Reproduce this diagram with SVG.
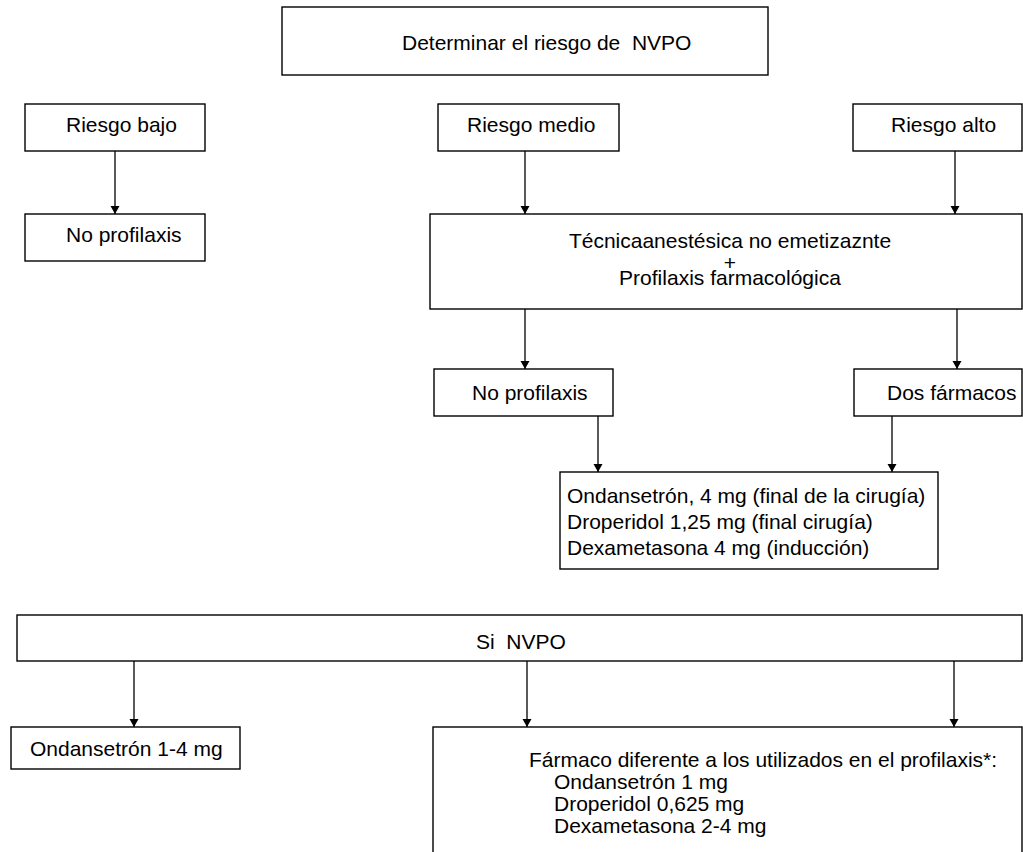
<svg xmlns="http://www.w3.org/2000/svg" width="1023" height="852" viewBox="0 0 1023 852">
<style>
.box{fill:#fff;stroke:#000;stroke-width:1.4}
.t{font-family:"Liberation Sans",Arial,sans-serif;font-size:21px;fill:#000}
.c{text-anchor:middle}
.con{stroke:#000;stroke-width:1.3;fill:none}
</style>
<defs>
<marker id="ah" viewBox="0 0 8 11" refX="8" refY="5.5" markerWidth="8" markerHeight="11" markerUnits="userSpaceOnUse" orient="auto">
<path d="M0,1 L8,5.5 L0,10 Z" fill="#000"/>
</marker>
</defs>
<rect width="1023" height="852" fill="#fff"/>
<g id="connectors">
<line class="con" x1="115" y1="151" x2="115" y2="214" marker-end="url(#ah)"/>
<line class="con" x1="525" y1="151" x2="525" y2="214" marker-end="url(#ah)"/>
<line class="con" x1="955" y1="151" x2="955" y2="214" marker-end="url(#ah)"/>
<line class="con" x1="525" y1="309" x2="525" y2="369" marker-end="url(#ah)"/>
<line class="con" x1="957" y1="309" x2="957" y2="369" marker-end="url(#ah)"/>
<line class="con" x1="598" y1="416" x2="598" y2="472" marker-end="url(#ah)"/>
<line class="con" x1="892" y1="416" x2="892" y2="472" marker-end="url(#ah)"/>
<line class="con" x1="134" y1="661" x2="134" y2="727" marker-end="url(#ah)"/>
<line class="con" x1="527" y1="661" x2="527" y2="727" marker-end="url(#ah)"/>
<line class="con" x1="954" y1="661" x2="954" y2="727" marker-end="url(#ah)"/>
</g>
<g id="n-top"><rect class="box" x="282" y="7" width="486" height="68"/><text class="t" x="402" y="50" xml:space="preserve">Determinar el riesgo de  NVPO</text></g>
<g id="n-bajo"><rect class="box" x="25" y="104" width="180" height="47"/><text class="t" x="66" y="132">Riesgo bajo</text></g>
<g id="n-noprof1"><rect class="box" x="25" y="214" width="180" height="47"/><text class="t" x="66" y="242">No profilaxis</text></g>
<g id="n-medio"><rect class="box" x="438" y="104" width="181" height="47"/><text class="t" x="467" y="132">Riesgo medio</text></g>
<g id="n-alto"><rect class="box" x="853" y="104" width="169" height="47"/><text class="t" x="891" y="132">Riesgo alto</text></g>
<g id="n-tecnica"><rect class="box" x="430" y="214" width="592" height="95"/>
<text class="t c" x="730" y="248">Técnicaanestésica no emetizaznte</text>
<text class="t c" x="730" y="270">+</text>
<text class="t c" x="730" y="285">Profilaxis farmacológica</text></g>
<g id="n-noprof2"><rect class="box" x="434" y="369" width="179" height="47"/><text class="t" x="472" y="400">No profilaxis</text></g>
<g id="n-dos"><rect class="box" x="854" y="369" width="168" height="47"/><text class="t" x="887" y="400">Dos fármacos</text></g>
<g id="n-farmacos"><rect class="box" x="560" y="472" width="378" height="97"/>
<text class="t" x="567" y="503">Ondansetrón, 4 mg (final de la cirugía)</text>
<text class="t" x="567" y="529">Droperidol 1,25 mg (final cirugía)</text>
<text class="t" x="567" y="555">Dexametasona 4 mg (inducción)</text></g>
<g id="n-si"><rect class="box" x="17" y="615" width="1005" height="46"/><text class="t" x="476" y="649" xml:space="preserve">Si  NVPO</text></g>
<g id="n-ond"><rect class="box" x="11" y="727" width="229" height="42"/><text class="t" x="30" y="756">Ondansetrón 1-4 mg</text></g>
<g id="n-dif"><rect class="box" x="433" y="727" width="589" height="140"/>
<text class="t" x="529" y="767">Fármaco diferente a los utilizados en el profilaxis*:</text>
<text class="t" x="554" y="789">Ondansetrón 1 mg</text>
<text class="t" x="554" y="811">Droperidol 0,625 mg</text>
<text class="t" x="554" y="833">Dexametasona 2-4 mg</text></g>
</svg>
